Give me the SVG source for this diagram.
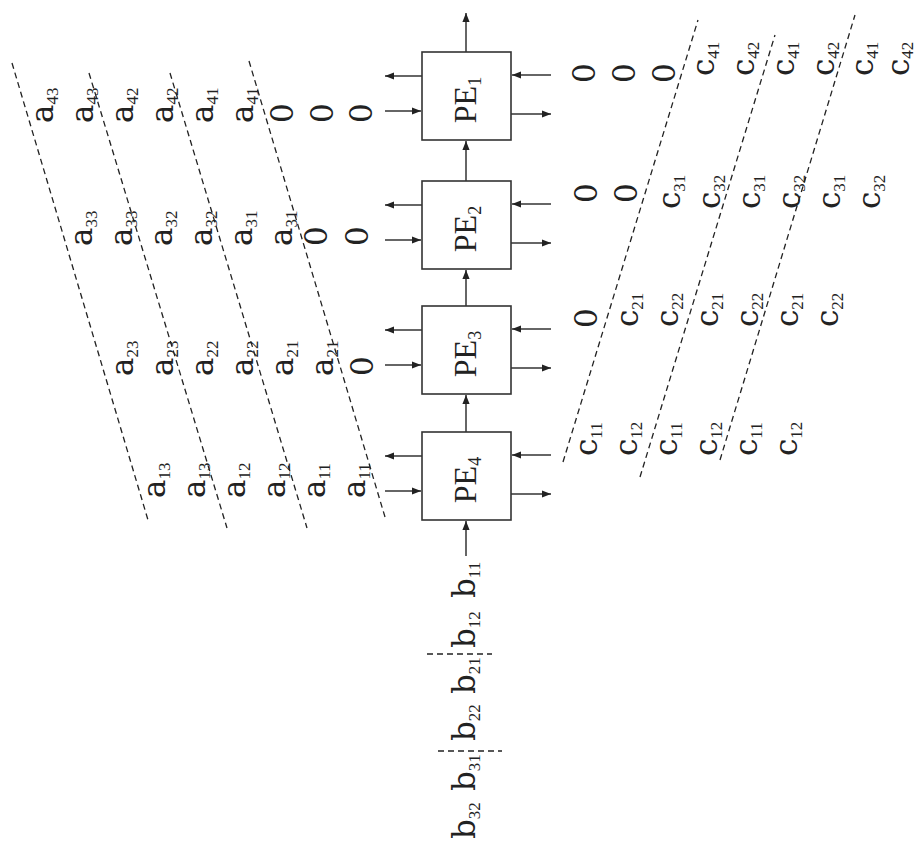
<svg xmlns="http://www.w3.org/2000/svg" width="920" height="841" viewBox="0 0 920 841">
<style>
.m{font-family:"DejaVu Serif","Liberation Serif",serif;font-size:31px;fill:#222}
.s{font-family:"Liberation Serif",serif;font-size:17px}
.pe{font-family:"Liberation Serif",serif;font-size:32px;fill:#222}
.box{fill:#fff;stroke:#333;stroke-width:1.6}
.ln{stroke:#333;stroke-width:1.5;fill:none}
.dash{stroke:#222;stroke-width:1.3;stroke-dasharray:6 4;fill:none}
</style>
<defs>
<marker id="ah" viewBox="0 0 10 10" refX="10" refY="5" markerWidth="9" markerHeight="9" markerUnits="userSpaceOnUse" orient="auto"><path d="M0,1 L10,5 L0,9 z" fill="#222"/></marker>
</defs>
<rect width="920" height="841" fill="#fff"/>

<g id="pe1"><rect class="box" x="422" y="52" width="89" height="88"/><text class="pe" text-anchor="middle" transform="translate(476,100) rotate(-90)">PE<tspan font-size="18" dy="5">1</tspan></text></g>
<g id="pe2"><rect class="box" x="422" y="181" width="89" height="88"/><text class="pe" text-anchor="middle" transform="translate(476,229) rotate(-90)">PE<tspan font-size="18" dy="5">2</tspan></text></g>
<g id="pe3"><rect class="box" x="422" y="306" width="89" height="88"/><text class="pe" text-anchor="middle" transform="translate(476,354) rotate(-90)">PE<tspan font-size="18" dy="5">3</tspan></text></g>
<g id="pe4"><rect class="box" x="422" y="432" width="89" height="88"/><text class="pe" text-anchor="middle" transform="translate(476,480) rotate(-90)">PE<tspan font-size="18" dy="5">4</tspan></text></g>

<g id="connectors" class="ln" marker-end="url(#ah)">
<line x1="466" y1="556" x2="466" y2="521"/>
<line x1="466" y1="432" x2="466" y2="395"/>
<line x1="466" y1="306" x2="466" y2="270"/>
<line x1="466" y1="181" x2="466" y2="141"/>
<line x1="466" y1="52" x2="466" y2="13"/>
<line x1="422" y1="76" x2="385" y2="76"/>
<line x1="385" y1="111" x2="421" y2="111"/>
<line x1="551" y1="75" x2="512" y2="75"/>
<line x1="511" y1="114" x2="551" y2="114"/>
<line x1="422" y1="205" x2="385" y2="205"/>
<line x1="385" y1="240" x2="421" y2="240"/>
<line x1="551" y1="204" x2="512" y2="204"/>
<line x1="511" y1="243" x2="551" y2="243"/>
<line x1="422" y1="330" x2="385" y2="330"/>
<line x1="385" y1="365" x2="421" y2="365"/>
<line x1="551" y1="329" x2="512" y2="329"/>
<line x1="511" y1="368" x2="551" y2="368"/>
<line x1="422" y1="456" x2="385" y2="456"/>
<line x1="385" y1="491" x2="421" y2="491"/>
<line x1="551" y1="455" x2="512" y2="455"/>
<line x1="511" y1="494" x2="551" y2="494"/>
</g>

<g id="dividers" class="dash">
<line x1="12" y1="63" x2="148" y2="520"/>
<line x1="89" y1="73" x2="227" y2="528"/>
<line x1="170" y1="73" x2="307" y2="528"/>
<line x1="249" y1="61" x2="385" y2="517"/>
<line x1="563" y1="462" x2="698" y2="20"/>
<line x1="640" y1="477" x2="775" y2="35"/>
<line x1="720" y1="460" x2="855" y2="15"/>
<line x1="427" y1="654" x2="492" y2="654"/>
<line x1="438" y1="751" x2="502" y2="751"/>
</g>

<g id="a-inputs" class="m">
<text transform="translate(53,123) rotate(-90)">a<tspan class="s" dy="5">43</tspan></text>
<text transform="translate(93,123) rotate(-90)">a<tspan class="s" dy="5">43</tspan></text>
<text transform="translate(133,123) rotate(-90)">a<tspan class="s" dy="5">42</tspan></text>
<text transform="translate(173,123) rotate(-90)">a<tspan class="s" dy="5">42</tspan></text>
<text transform="translate(213,123) rotate(-90)">a<tspan class="s" dy="5">41</tspan></text>
<text transform="translate(253,123) rotate(-90)">a<tspan class="s" dy="5">41</tspan></text>
<text transform="translate(293,123) rotate(-90)">0</text>
<text transform="translate(333,123) rotate(-90)">0</text>
<text transform="translate(372,123) rotate(-90)">0</text>

<text transform="translate(92,246) rotate(-90)">a<tspan class="s" dy="5">33</tspan></text>
<text transform="translate(132,246) rotate(-90)">a<tspan class="s" dy="5">33</tspan></text>
<text transform="translate(172,246) rotate(-90)">a<tspan class="s" dy="5">32</tspan></text>
<text transform="translate(212,246) rotate(-90)">a<tspan class="s" dy="5">32</tspan></text>
<text transform="translate(252,246) rotate(-90)">a<tspan class="s" dy="5">31</tspan></text>
<text transform="translate(292,246) rotate(-90)">a<tspan class="s" dy="5">31</tspan></text>
<text transform="translate(327,246) rotate(-90)">0</text>
<text transform="translate(368,246) rotate(-90)">0</text>

<text transform="translate(133,376) rotate(-90)">a<tspan class="s" dy="5">23</tspan></text>
<text transform="translate(173,376) rotate(-90)">a<tspan class="s" dy="5">23</tspan></text>
<text transform="translate(213,376) rotate(-90)">a<tspan class="s" dy="5">22</tspan></text>
<text transform="translate(253,376) rotate(-90)">a<tspan class="s" dy="5">22</tspan></text>
<text transform="translate(293,376) rotate(-90)">a<tspan class="s" dy="5">21</tspan></text>
<text transform="translate(333,376) rotate(-90)">a<tspan class="s" dy="5">21</tspan></text>
<text transform="translate(373,376) rotate(-90)">0</text>

<text transform="translate(165,498) rotate(-90)">a<tspan class="s" dy="5">13</tspan></text>
<text transform="translate(205,498) rotate(-90)">a<tspan class="s" dy="5">13</tspan></text>
<text transform="translate(245,498) rotate(-90)">a<tspan class="s" dy="5">12</tspan></text>
<text transform="translate(285,498) rotate(-90)">a<tspan class="s" dy="5">12</tspan></text>
<text transform="translate(325,498) rotate(-90)">a<tspan class="s" dy="5">11</tspan></text>
<text transform="translate(365,498) rotate(-90)">a<tspan class="s" dy="5">11</tspan></text>
</g>

<g id="b-inputs" class="m">
<text transform="translate(475,598) rotate(-90)">b<tspan class="s" dy="5">11</tspan></text>
<text transform="translate(475,648) rotate(-90)">b<tspan class="s" dy="5">12</tspan></text>
<text transform="translate(475,694) rotate(-90)">b<tspan class="s" dy="5">21</tspan></text>
<text transform="translate(475,741) rotate(-90)">b<tspan class="s" dy="5">22</tspan></text>
<text transform="translate(475,791) rotate(-90)">b<tspan class="s" dy="5">31</tspan></text>
<text transform="translate(475,839) rotate(-90)">b<tspan class="s" dy="5">32</tspan></text>
</g>

<g id="c-outputs" class="m">
<text transform="translate(595,83) rotate(-90)">0</text>
<text transform="translate(635,83) rotate(-90)">0</text>
<text transform="translate(675,83) rotate(-90)">0</text>
<text transform="translate(714,76) rotate(-90)">c<tspan class="s" dy="5">41</tspan></text>
<text transform="translate(754,76) rotate(-90)">c<tspan class="s" dy="5">42</tspan></text>
<text transform="translate(794,76) rotate(-90)">c<tspan class="s" dy="5">41</tspan></text>
<text transform="translate(834,76) rotate(-90)">c<tspan class="s" dy="5">42</tspan></text>
<text transform="translate(873,76) rotate(-90)">c<tspan class="s" dy="5">41</tspan></text>
<text transform="translate(909,76) rotate(-90)">c<tspan class="s" dy="4">42</tspan></text>

<text transform="translate(597,203) rotate(-90)">0</text>
<text transform="translate(637,203) rotate(-90)">0</text>
<text transform="translate(680,209) rotate(-90)">c<tspan class="s" dy="5">31</tspan></text>
<text transform="translate(720,209) rotate(-90)">c<tspan class="s" dy="5">32</tspan></text>
<text transform="translate(760,209) rotate(-90)">c<tspan class="s" dy="5">31</tspan></text>
<text transform="translate(800,209) rotate(-90)">c<tspan class="s" dy="5">32</tspan></text>
<text transform="translate(840,209) rotate(-90)">c<tspan class="s" dy="5">31</tspan></text>
<text transform="translate(880,209) rotate(-90)">c<tspan class="s" dy="5">32</tspan></text>

<text transform="translate(597,328) rotate(-90)">0</text>
<text transform="translate(638,327) rotate(-90)">c<tspan class="s" dy="5">21</tspan></text>
<text transform="translate(678,327) rotate(-90)">c<tspan class="s" dy="5">22</tspan></text>
<text transform="translate(718,327) rotate(-90)">c<tspan class="s" dy="5">21</tspan></text>
<text transform="translate(758,327) rotate(-90)">c<tspan class="s" dy="5">22</tspan></text>
<text transform="translate(798,327) rotate(-90)">c<tspan class="s" dy="5">21</tspan></text>
<text transform="translate(838,327) rotate(-90)">c<tspan class="s" dy="5">22</tspan></text>

<text transform="translate(597,456) rotate(-90)">c<tspan class="s" dy="5">11</tspan></text>
<text transform="translate(637,456) rotate(-90)">c<tspan class="s" dy="5">12</tspan></text>
<text transform="translate(677,456) rotate(-90)">c<tspan class="s" dy="5">11</tspan></text>
<text transform="translate(717,456) rotate(-90)">c<tspan class="s" dy="5">12</tspan></text>
<text transform="translate(757,456) rotate(-90)">c<tspan class="s" dy="5">11</tspan></text>
<text transform="translate(797,456) rotate(-90)">c<tspan class="s" dy="5">12</tspan></text>
</g>
</svg>
